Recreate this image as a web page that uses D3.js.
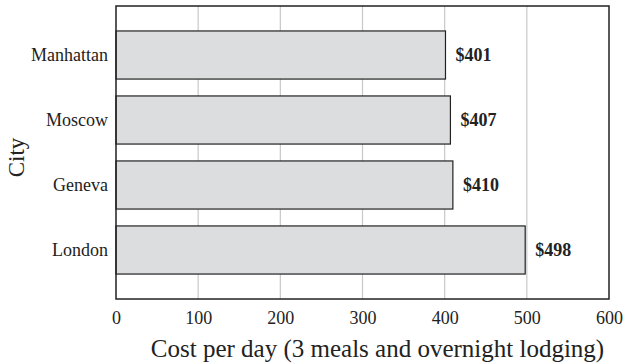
<!DOCTYPE html>
<html><head><meta charset="utf-8">
<script src="https://cdn.jsdelivr.net/npm/d3@7"></script>
<style>body{margin:0;background:#fff}svg{display:block;font-family:"Liberation Serif","Times New Roman",serif}</style>
</head><body><svg id="c" width="630" height="364"></svg>
<script>
const cities = ["Manhattan","Moscow","Geneva","London"];
const costs = [401,407,410,498];
const xTicks = [0,100,200,300,400,500,600];

const svg = d3.select("#c");
const m = {l:116, r:21, t:6, b:65};
const W = 630, H = 364;
const x = d3.scaleLinear().domain([0,600]).range([m.l, W-m.r]);
const y = d3.scaleBand().domain(cities).range([m.t, H-m.b]).paddingInner(0.26).paddingOuter(0.384);

svg.append("g").selectAll("line").data(xTicks.slice(1,-1)).join("line")
  .attr("x1",d=>x(d)).attr("x2",d=>x(d)).attr("y1",m.t).attr("y2",H-m.b)
  .attr("stroke","#c8c8c8").attr("stroke-width",1.2);

svg.append("g").selectAll("rect").data(cities).join("rect")
  .attr("x",x(0)).attr("y",d=>y(d)).attr("width",(d,i)=>x(costs[i])-x(0)).attr("height",y.bandwidth())
  .attr("fill","#dcdddf").attr("stroke","#222").attr("stroke-width",1.2);

svg.append("rect").attr("x",m.l).attr("y",m.t).attr("width",W-m.r-m.l).attr("height",H-m.b-m.t)
  .attr("fill","none").attr("stroke","#222").attr("stroke-width",1.5);

svg.append("g").selectAll("text").data(cities).join("text")
  .attr("x",(d,i)=>x(costs[i])+10).attr("y",d=>y(d)+y.bandwidth()/2).attr("dy","0.35em")
  .attr("font-weight","bold").attr("font-size",18).attr("fill","#222")
  .text((d,i)=>"$"+costs[i]);

const xAxis = svg.append("g").attr("transform",`translate(0,${H-m.b})`)
  .call(d3.axisBottom(x).tickValues(xTicks).tickSize(0).tickPadding(12).tickFormat(d3.format("d")));
xAxis.attr("font-family",null).attr("font-size",null);
xAxis.select(".domain").remove();
xAxis.selectAll("text").style("font-size","18px").attr("fill","#222").style("font-family","Liberation Serif");

const yAxis = svg.append("g").attr("transform",`translate(${m.l},0)`)
  .call(d3.axisLeft(y).tickSize(0).tickPadding(8));
yAxis.attr("font-family",null).attr("font-size",null);
yAxis.select(".domain").remove();
yAxis.selectAll("text").style("font-size","18px").attr("fill","#222").style("font-family","Liberation Serif");

svg.append("text").attr("x",(m.l+W-m.r)/2 + 15).attr("y",357).attr("text-anchor","middle")
  .attr("font-size",25).attr("fill","#222").text("Cost per day (3 meals and overnight lodging)");
svg.append("text").attr("transform",`translate(24,${(m.t+H-m.b)/2 + 5}) rotate(-90)`).attr("text-anchor","middle")
  .attr("font-size",23).attr("fill","#222").text("City");
</script></body></html>
